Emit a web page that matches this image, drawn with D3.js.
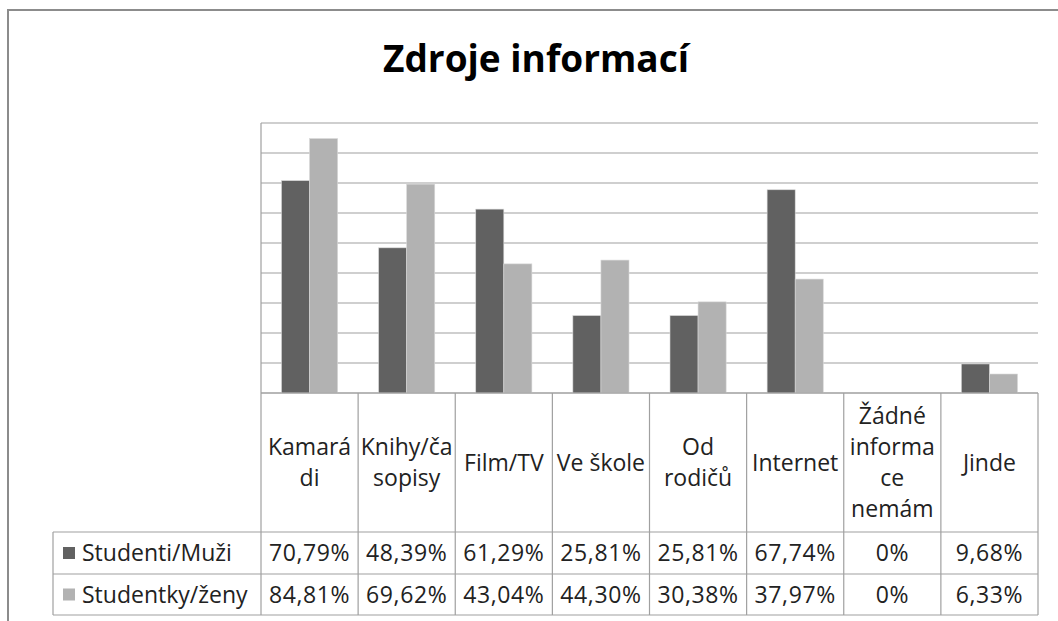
<!DOCTYPE html>
<html>
<head>
<meta charset="utf-8">
<script src="https://cdn.jsdelivr.net/npm/d3@7"></script>
<style>
  body { margin: 0; background: #fff; }
  svg { display: block; font-family: 'Open Sans', sans-serif; }
</style>
</head>
<body>
<svg id="chart" width="1058" height="621"></svg>
<script>
// data
const categories = ['Kamarádi', 'Knihy/časopisy', 'Film/TV', 'Ve škole', 'Od rodičů', 'Internet', 'Žádné informace nemám', 'Jinde'];
// header labels as wrapped in the table
const categoryLines = [['Kamará', 'di'], ['Knihy/ča', 'sopisy'], ['Film/TV'], ['Ve škole'], ['Od', 'rodičů'], ['Internet'], ['Žádné', 'informa', 'ce', 'nemám'], ['Jinde']];
const seriesNames = ['Studenti/Muži', 'Studentky/ženy'];
const men = [70.79, 48.39, 61.29, 25.81, 25.81, 67.74, 0, 9.68];
const women = [84.81, 69.62, 43.04, 44.30, 30.38, 37.97, 0, 6.33];
const menLabels = ['70,79%', '48,39%', '61,29%', '25,81%', '25,81%', '67,74%', '0%', '9,68%'];
const womenLabels = ['84,81%', '69,62%', '43,04%', '44,30%', '30,38%', '37,97%', '0%', '6,33%'];
const yTicks = [0, 10, 20, 30, 40, 50, 60, 70, 80, 90];

const colors = ['#616161', '#b2b2b2'];
const svg = d3.select('#chart');

// layout
const plot = { left: 261, right: 1038, top: 123, bottom: 393 };
const table = { left: 53, header: 532, row1: 574, bottom: 615 };

const x = d3.scaleBand().domain(categories).range([plot.left, plot.right]);
const xInner = d3.scaleBand().domain(seriesNames).range([0, x.bandwidth()]).paddingOuter(0.73);
const y = d3.scaleLinear().domain([0, 90]).range([plot.bottom, plot.top]);

// outer chart border (left + top)
svg.append('path')
  .attr('d', 'M8,621 V10 H1058')
  .attr('fill', 'none')
  .attr('stroke', '#8c8c8c')
  .attr('stroke-width', 2);

// title
svg.append('text')
  .attr('x', 536)
  .attr('y', 72)
  .attr('text-anchor', 'middle')
  .attr('font-size', 37)
  .attr('font-weight', 700)
  .attr('fill', '#000')
  .text('Zdroje informací');

// gridlines
svg.append('g')
  .selectAll('line')
  .data(yTicks)
  .enter()
  .append('line')
  .attr('x1', plot.left)
  .attr('x2', plot.right)
  .attr('y1', (d) => y(d))
  .attr('y2', (d) => y(d))
  .attr('stroke', '#a0a0a0')
  .attr('stroke-width', 1.2);

// bars
const series = [men, women];
const groups = svg.append('g')
  .selectAll('g')
  .data(series)
  .enter()
  .append('g')
  .attr('fill', (d, i) => colors[i]);

groups.selectAll('rect')
  .data((d, i) => d.map((v, j) => ({ v: v, cat: categories[j], s: seriesNames[i] })))
  .enter()
  .append('rect')
  .attr('x', (d) => x(d.cat) + xInner(d.s))
  .attr('width', xInner.bandwidth())
  .attr('y', (d) => y(d.v))
  .attr('height', (d) => plot.bottom - y(d.v))
  .attr('stroke', '#d8d8d8')
  .attr('stroke-width', 0.6);

// axis line
svg.append('line')
  .attr('x1', plot.left).attr('x2', plot.left)
  .attr('y1', plot.top).attr('y2', table.bottom)
  .attr('stroke', '#a0a0a0')
  .attr('stroke-width', 1.2);

// data table
const grid = svg.append('g').attr('stroke', '#a0a0a0').attr('stroke-width', 1.2).attr('fill', 'none');
grid.append('line').attr('x1', plot.left).attr('x2', plot.right).attr('y1', plot.bottom).attr('y2', plot.bottom);
grid.append('line').attr('x1', table.left).attr('x2', plot.right).attr('y1', table.header).attr('y2', table.header);
grid.append('line').attr('x1', table.left).attr('x2', plot.right).attr('y1', table.row1).attr('y2', table.row1);
grid.append('line').attr('x1', table.left).attr('x2', plot.right).attr('y1', table.bottom).attr('y2', table.bottom);
grid.append('line').attr('x1', table.left).attr('x2', table.left).attr('y1', table.header).attr('y2', table.bottom);
grid.selectAll('line.col')
  .data(categories)
  .enter()
  .append('line')
  .attr('class', 'col')
  .attr('x1', (d) => x(d) + x.bandwidth())
  .attr('x2', (d) => x(d) + x.bandwidth())
  .attr('y1', plot.bottom)
  .attr('y2', table.bottom);

const fs = 23;
const lineH = 31;
const headerMid = (plot.bottom + table.header) / 2;

// header labels
const headers = svg.append('g')
  .attr('font-size', fs)
  .attr('fill', '#222')
  .attr('text-anchor', 'middle');
headers.selectAll('text')
  .data(categories)
  .enter()
  .append('text')
  .attr('x', (d) => x(d) + x.bandwidth() / 2)
  .each(function (d, i) {
    const lines = categoryLines[i];
    const first = headerMid - ((lines.length - 1) * lineH) / 2 + fs * 0.36;
    d3.select(this)
      .selectAll('tspan')
      .data(lines)
      .enter()
      .append('tspan')
      .attr('x', x(d) + x.bandwidth() / 2)
      .attr('y', (l, k) => first + k * lineH)
      .text((l) => l);
  });

// value rows
const rowMids = [(table.header + table.row1) / 2, (table.row1 + table.bottom) / 2];
const rowLabels = [menLabels, womenLabels];
rowLabels.forEach((labels, r) => {
  svg.append('g')
    .attr('font-size', fs)
    .attr('fill', '#222')
    .attr('text-anchor', 'middle')
    .attr('letter-spacing', 0.6)
    .selectAll('text')
    .data(labels)
    .enter()
    .append('text')
    .attr('x', (d, j) => x(categories[j]) + x.bandwidth() / 2)
    .attr('y', rowMids[r] + fs * 0.36)
    .text((d) => d);

  // legend key + series name
  svg.append('rect')
    .attr('x', 63)
    .attr('y', rowMids[r] - 6)
    .attr('width', 12)
    .attr('height', 12)
    .attr('fill', colors[r]);
  svg.append('text')
    .attr('x', 82)
    .attr('y', rowMids[r] + fs * 0.36)
    .attr('font-size', fs)
    .attr('fill', '#222')
    .text(seriesNames[r]);
});
</script>
</body>
</html>
